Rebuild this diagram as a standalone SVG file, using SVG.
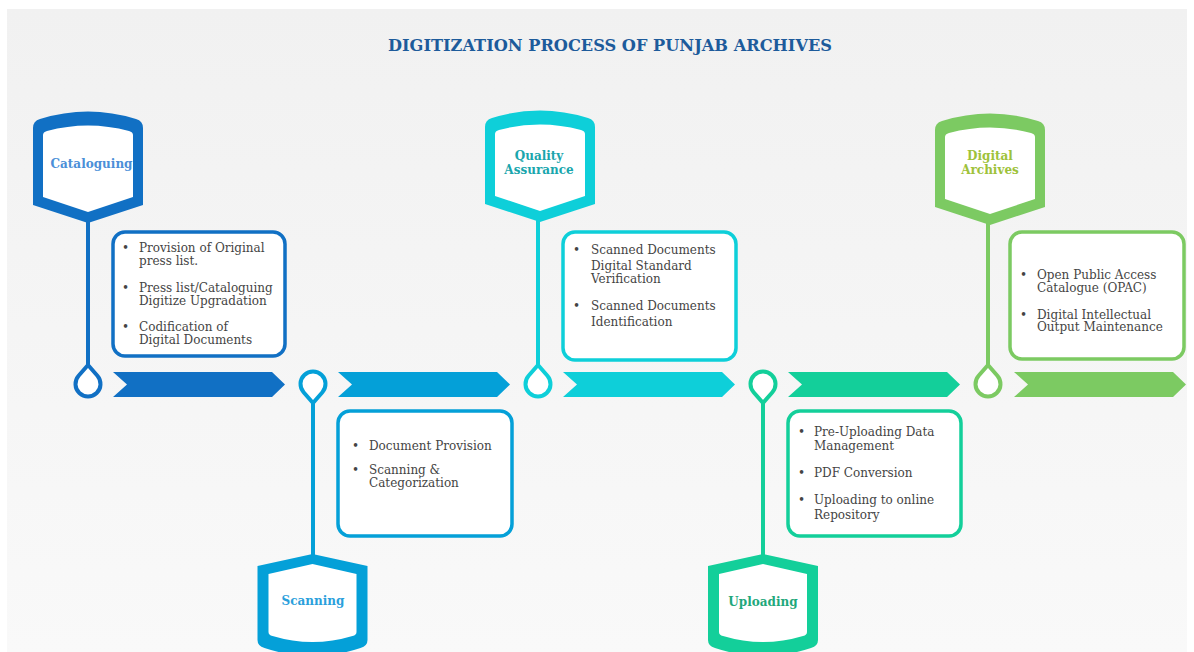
<svg xmlns="http://www.w3.org/2000/svg" width="1194" height="652" viewBox="0 0 1194 652">
  <defs>
    <linearGradient id="bg" x1="0" y1="0" x2="0" y2="1">
      <stop offset="0" stop-color="#f1f1f1"/>
      <stop offset="1" stop-color="#f9f9f9"/>
    </linearGradient>
    <!-- hexagonal badge hanging from above (pointed bottom) -->
    <path id="hexTopOuter" d="M-55,128 Q-55,121 -48,119 Q0,104 48,119 Q55,121 55,128 L55,205 L0,223 L-55,205 Z"/>
    <path id="hexTopInner" d="M-45,135 Q-45,132 -41,131 Q0,120 41,131 Q45,132 45,135 L45,197 L0,212 L-45,197 Z"/>
    <!-- badge standing below (pointed top) -->
    <path id="hexBotOuter" d="M0,554 L55,566 L55,640 Q55,646 48,648 Q0,664 -48,648 Q-55,646 -55,640 L-55,566 Z"/>
    <path id="hexBotInner" d="M0,564 L44,574 L44,632 Q44,635 40,636 Q0,648 -40,636 Q-44,635 -44,632 L-44,574 Z"/>
    <!-- chevron band of the timeline -->
    <path id="chevron" d="M0,0 L159,0 L172,12.5 L159,25 L0,25 L14,12.5 Z"/>
    <!-- location pins -->
    <path id="pinUp" d="M0,-19 L9.4,-8.2 A12.5,12.5 0 1 1 -9.4,-8.2 Z"/>
    <path id="pinDown" d="M0,19 L9.4,8.2 A12.5,12.5 0 1 0 -9.4,8.2 Z"/>
  </defs>
  <style>
    .title { font-family: "DejaVu Serif", "Liberation Serif", serif; font-weight: bold; font-size: 16px; fill: #1d5b9b; }
    .label { font-family: "DejaVu Serif", "Liberation Serif", serif; font-weight: bold; font-size: 12px; text-anchor: middle; }
    .body { font-family: "DejaVu Serif", "Liberation Serif", serif; font-size: 12px; fill: #444444; }
    .box { fill: #ffffff; stroke-width: 3.5; }
    .pin { fill: #ffffff; stroke-width: 4; }
    .stem { stroke-width: 4; }
  </style>

  <rect x="7" y="9" width="1180" height="643" fill="url(#bg)"/>

  <text class="title" x="610" y="51" text-anchor="middle" textLength="444" lengthAdjust="spacingAndGlyphs">DIGITIZATION PROCESS OF PUNJAB ARCHIVES</text>

  <!-- timeline: stems, pins and chevrons -->
  <g id="connectors">
    <line class="stem" x1="88" y1="215" x2="88" y2="368" stroke="#1170c4"/>
    <line class="stem" x1="313" y1="402" x2="313" y2="560" stroke="#04a0d8"/>
    <line class="stem" x1="538" y1="215" x2="538" y2="368" stroke="#0ecfd9"/>
    <line class="stem" x1="763" y1="402" x2="763" y2="560" stroke="#13cf9a"/>
    <line class="stem" x1="988" y1="215" x2="988" y2="368" stroke="#7cca62"/>

    <use href="#pinUp" class="pin" x="88" y="384" stroke="#1170c4"/>
    <use href="#pinDown" class="pin" x="313" y="384" stroke="#04a0d8"/>
    <use href="#pinUp" class="pin" x="538" y="384" stroke="#0ecfd9"/>
    <use href="#pinDown" class="pin" x="763" y="384" stroke="#13cf9a"/>
    <use href="#pinUp" class="pin" x="988" y="384" stroke="#7cca62"/>

    <use href="#chevron" x="113" y="372" fill="#1170c4"/>
    <use href="#chevron" x="338" y="372" fill="#04a0d8"/>
    <use href="#chevron" x="563" y="372" fill="#0ecfd9"/>
    <use href="#chevron" x="788" y="372" fill="#13cf9a"/>
    <use href="#chevron" x="1014" y="372" fill="#7cca62"/>
  </g>

  <!-- Cataloguing -->
  <g id="cataloguing">
    <use href="#hexTopOuter" x="88" y="0" fill="#1170c4"/>
    <use href="#hexTopInner" x="88" y="0" fill="#ffffff"/>
    <text class="label" x="91.5" y="168" fill="#4b8fd8">Cataloguing</text>
    <rect class="box" x="113" y="232" width="172" height="124" rx="12" stroke="#1170c4"/>
    <g class="body">
      <text x="122" y="252">•</text><text x="139" y="252">Provision of Original</text>
      <text x="139" y="265">press list.</text>
      <text x="122" y="291.5">•</text><text x="139" y="291.5">Press list/Cataloguing</text>
      <text x="139" y="304.5">Digitize Upgradation</text>
      <text x="122" y="331">•</text><text x="139" y="331">Codification of</text>
      <text x="139" y="344">Digital Documents</text>
    </g>
  </g>

  <!-- Scanning -->
  <g id="scanning">
    <use href="#hexBotOuter" x="312.5" y="0" fill="#04a0d8"/>
    <use href="#hexBotInner" x="312.5" y="0" fill="#ffffff"/>
    <text class="label" x="313" y="605" fill="#2aa0dc">Scanning</text>
    <rect class="box" x="338" y="411" width="174" height="125" rx="12" stroke="#04a0d8"/>
    <g class="body">
      <text x="352" y="450">•</text><text x="369" y="450">Document Provision</text>
      <text x="352" y="474">•</text><text x="369" y="474">Scanning &amp;</text>
      <text x="369" y="487">Categorization</text>
    </g>
  </g>

  <!-- Quality Assurance -->
  <g id="quality-assurance">
    <use href="#hexTopOuter" x="540" y="-1" fill="#0ecfd9"/>
    <use href="#hexTopInner" x="540" y="-1" fill="#ffffff"/>
    <text class="label" x="539" y="160" fill="#1aa6ad">Quality</text>
    <text class="label" x="539" y="173.5" fill="#1aa6ad">Assurance</text>
    <rect class="box" x="563" y="232" width="173" height="128" rx="12" stroke="#0ecfd9"/>
    <g class="body">
      <text x="573" y="254">•</text><text x="591" y="254">Scanned Documents</text>
      <text x="591" y="269.5">Digital Standard</text>
      <text x="591" y="283">Verification</text>
      <text x="573" y="310">•</text><text x="591" y="310">Scanned Documents</text>
      <text x="591" y="325.5">Identification</text>
    </g>
  </g>

  <!-- Uploading -->
  <g id="uploading">
    <use href="#hexBotOuter" x="763" y="0" fill="#13cf9a"/>
    <use href="#hexBotInner" x="763" y="0" fill="#ffffff"/>
    <text class="label" x="763" y="605.5" fill="#1fa87c">Uploading</text>
    <rect class="box" x="788" y="411" width="173" height="125" rx="12" stroke="#13cf9a"/>
    <g class="body">
      <text x="798" y="435.5">•</text><text x="814" y="435.5">Pre-Uploading Data</text>
      <text x="814" y="450">Management</text>
      <text x="798" y="477">•</text><text x="814" y="477">PDF Conversion</text>
      <text x="798" y="504">•</text><text x="814" y="504">Uploading to online</text>
      <text x="814" y="519">Repository</text>
    </g>
  </g>

  <!-- Digital Archives -->
  <g id="digital-archives">
    <use href="#hexTopOuter" x="990" y="2" fill="#7cca62"/>
    <use href="#hexTopInner" x="990" y="2" fill="#ffffff"/>
    <text class="label" x="990" y="159.5" fill="#9ec23a">Digital</text>
    <text class="label" x="990" y="173.5" fill="#9ec23a">Archives</text>
    <rect class="box" x="1010" y="232" width="174" height="127" rx="12" stroke="#7cca62"/>
    <g class="body">
      <text x="1020" y="278.5">•</text><text x="1037" y="278.5">Open Public Access</text>
      <text x="1037" y="291.5">Catalogue (OPAC)</text>
      <text x="1020" y="318.5">•</text><text x="1037" y="318.5">Digital Intellectual</text>
      <text x="1037" y="331">Output Maintenance</text>
    </g>
  </g>
</svg>
